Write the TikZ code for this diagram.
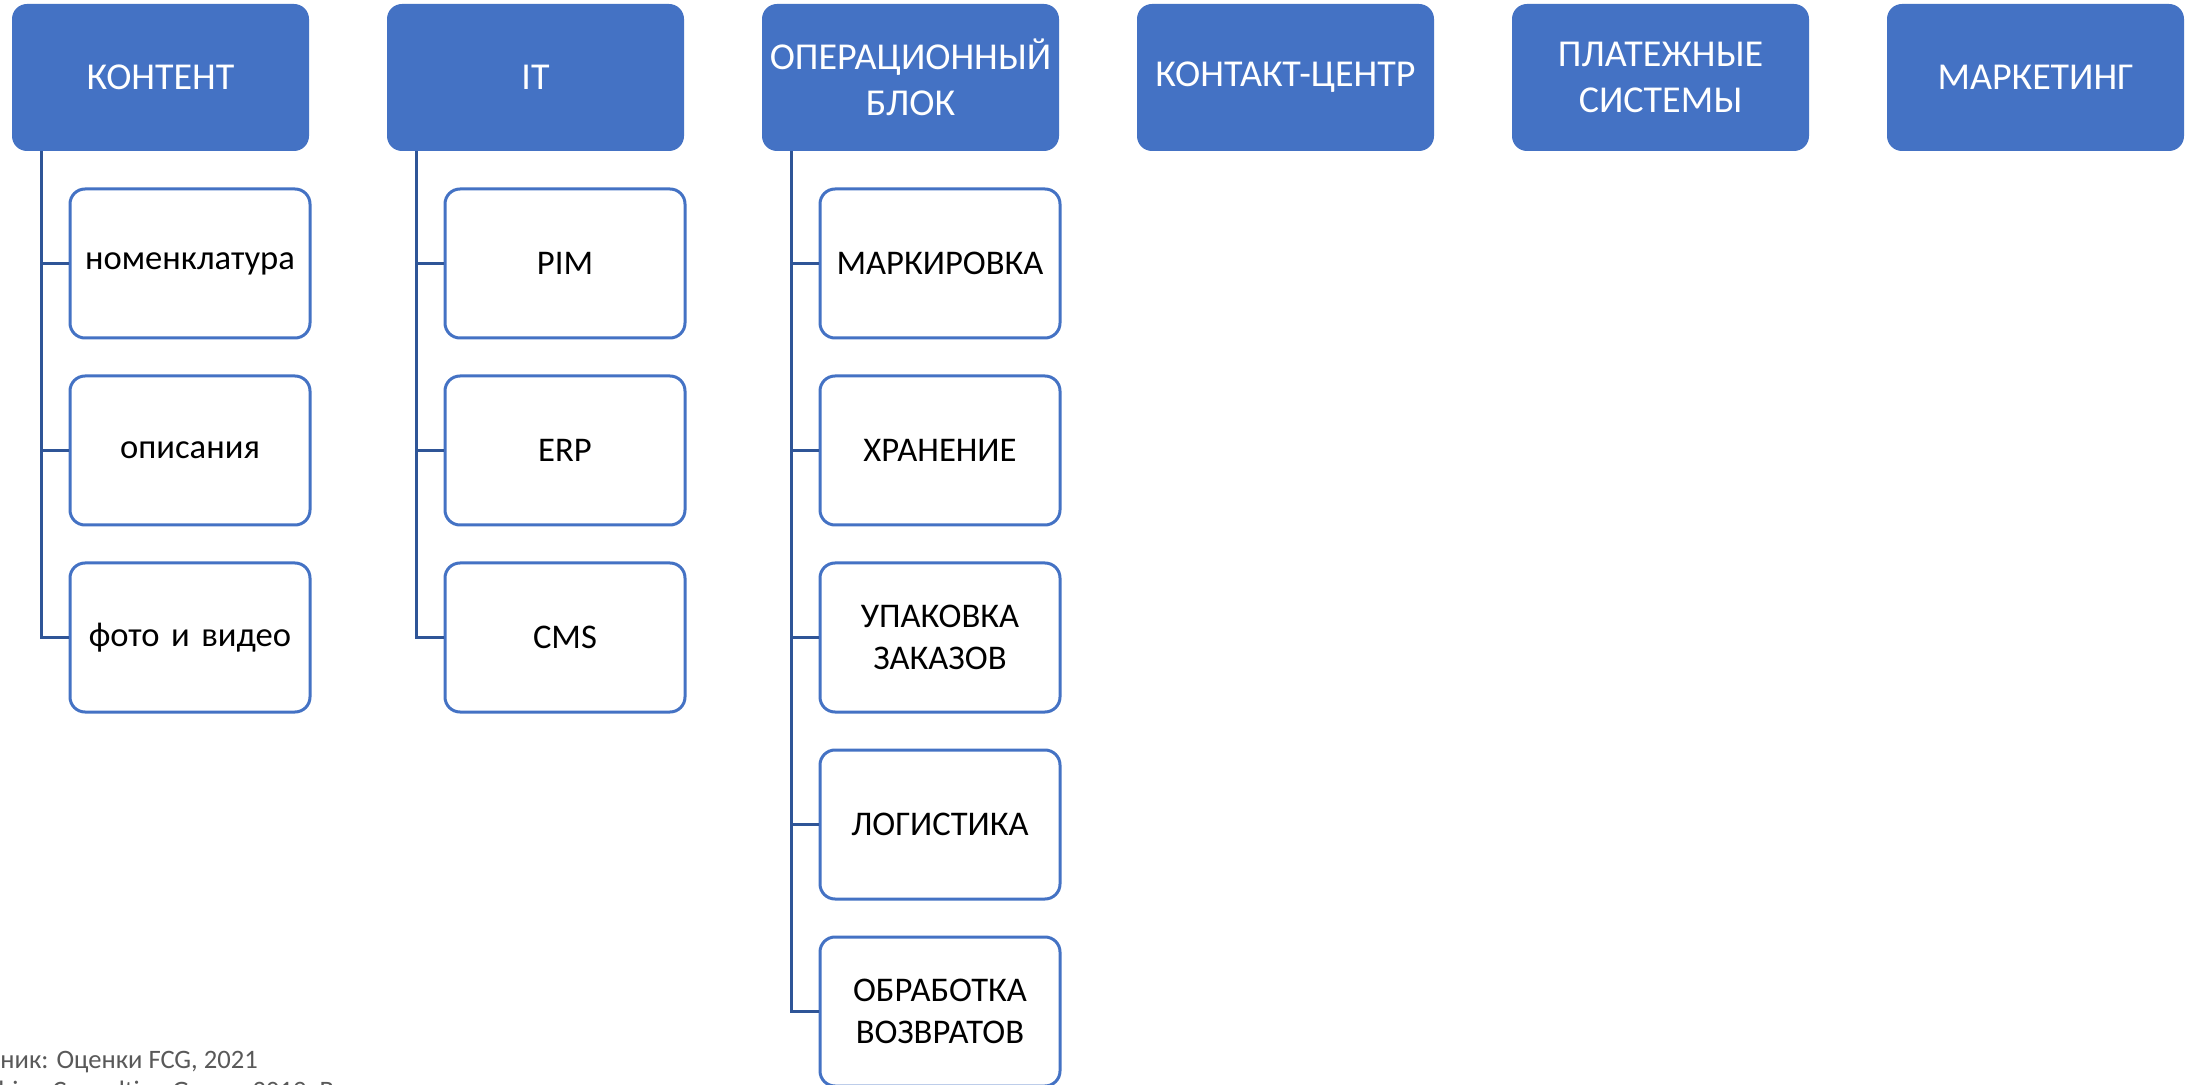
\documentclass[tikz,border=0pt]{standalone}
\usepackage{fontspec}
\setmainfont{Carlito}
\usepackage{tikz}
\usetikzlibrary{positioning}
\definecolor{boxblue}{HTML}{4472C4}
\definecolor{linkblue}{HTML}{2F5597}
\definecolor{notegray}{HTML}{595959}
\tikzstyle{head} = [rectangle,rounded corners=7.5pt,minimum width=148.5pt,minimum height=73.5pt,inner sep=2pt,text width=142pt,align=center,fill=boxblue,text=white,font=\fontsize{19}{23}\selectfont]
\tikzstyle{item} = [rectangle,rounded corners=7.5pt,minimum width=120pt,minimum height=74.5pt,inner sep=2pt,text width=114pt,align=center,draw=boxblue,line width=1.5pt,fill=white,text=black,font=\fontsize{17.3}{21}\selectfont]
\tikzstyle{link} = [draw=linkblue,line width=1.5pt]

\begin{document}
\begin{tikzpicture}[x=0.5pt,y=-0.5pt,node distance=187.5pt]
\useasboundingbox [fill=white] (0,0) rectangle (2191,1085);
\node (content) [head] at (160.5,77.5) {КОНТЕНТ};
\node (it) [head, right of=content] {IT};
\node (ops) [head, right of=it] {ОПЕРАЦИОННЫЙ\\БЛОК};
\node (call) [head, right of=ops] {КОНТАКТ-ЦЕНТР};
\node (pay) [head, right of=call] {ПЛАТЕЖНЫЕ\\СИСТЕМЫ};
\node (mkt) [head, right of=pay] {МАРКЕТИНГ};

\begin{scope}[node distance=93.5pt]
\node (nom) [item, below of=content, xshift=14.75pt, yshift=0.5pt] {номенклатура};
\node (desc) [item, below of=nom] {описания};
\node (photo) [item, below of=desc] {фото и видео};
\node (pim) [item, below of=it, xshift=14.75pt, yshift=0.5pt] {PIM};
\node (erp) [item, below of=pim] {ERP};
\node (cms) [item, below of=erp] {CMS};
\node (mark) [item, below of=ops, xshift=14.75pt, yshift=0.5pt] {МАРКИРОВКА};
\node (store) [item, below of=mark] {ХРАНЕНИЕ};
\node (pack) [item, below of=store] {УПАКОВКА\\ЗАКАЗОВ};
\node (logi) [item, below of=pack] {ЛОГИСТИКА};
\node (ret) [item, below of=logi] {ОБРАБОТКА\\ВОЗВРАТОВ};
\end{scope}

\draw [link] (content.south west) ++(15pt,0) |- (nom.west);
\draw [link] (content.south west) ++(15pt,0) |- (desc.west);
\draw [link] (content.south west) ++(15pt,0) |- (photo.west);
\draw [link] (it.south west) ++(15pt,0) |- (pim.west);
\draw [link] (it.south west) ++(15pt,0) |- (erp.west);
\draw [link] (it.south west) ++(15pt,0) |- (cms.west);
\draw [link] (ops.south west) ++(15pt,0) |- (mark.west);
\draw [link] (ops.south west) ++(15pt,0) |- (store.west);
\draw [link] (ops.south west) ++(15pt,0) |- (pack.west);
\draw [link] (ops.south west) ++(15pt,0) |- (logi.west);
\draw [link] (ops.south west) ++(15pt,0) |- (ret.west);

% source note, cut by the page edge
\node (src) [anchor=base west, inner sep=0pt, text=notegray, font=\fontsize{13.3}{16}\selectfont] at (0,1068) {\llap{Источ}ник: Оценки FCG, 2021};
\node (src2) [anchor=base west, inner sep=0pt, text=notegray, font=\fontsize{13.3}{16}\selectfont] at (52,1099) {\llap{Fashion }Consulting Group, 2019; B};
\end{tikzpicture}
\end{document}
